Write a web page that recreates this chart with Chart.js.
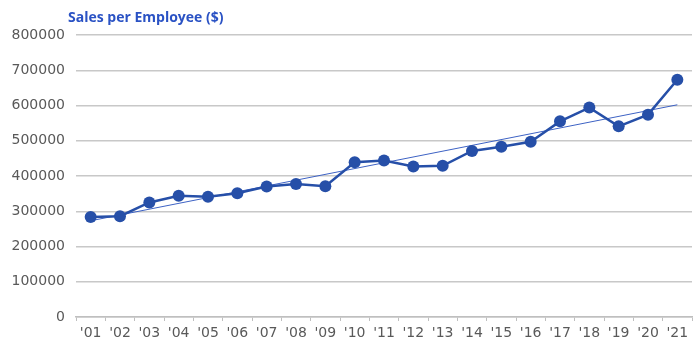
<!DOCTYPE html>
<html>
<head>
<meta charset="utf-8">
<script src="https://cdn.jsdelivr.net/npm/chart.js@4"></script>
<style>
  html, body { margin: 0; padding: 0; background: #fff; overflow: hidden; }
  #wrap { width: 698px; height: 343px; position: relative; }
</style>
</head>
<body>
<div id="wrap"><canvas id="myChart"></canvas></div>
<script>
var years = ["'01", "'02", "'03", "'04", "'05", "'06", "'07", "'08", "'09", "'10", "'11",
             "'12", "'13", "'14", "'15", "'16", "'17", "'18", "'19", "'20", "'21"];
var salesPerEmployee = [284000, 286000, 325000, 344000, 341000, 351000, 370000, 377000, 371000, 439000, 444000,
                        427000, 429000, 471000, 483000, 497000, 555000, 594000, 541000, 574000, 673000];
// linear trend, first and last year
var trendStart = 273000;
var trendEnd = 602000;
var yTicks = [0, 100000, 200000, 300000, 400000, 500000, 600000, 700000, 800000];

var blue = '#264fa8';
var tickFont = { family: 'DejaVu Sans', size: 14 };

// chart heading, drawn above the plot
var heading = {
  id: 'heading',
  afterDraw: function (chart) {
    var c = chart.ctx;
    c.save();
    c.font = 'bold 14px "Open Sans"';
    c.fillStyle = '#2a52c4';
    c.textBaseline = 'middle';
    c.fillText('Sales per Employee ($)', 68, 18);
    c.restore();
  }
};

var ctx = document.getElementById('myChart').getContext('2d');
var myChart = new Chart(ctx, {
  type: 'line',
  data: {
    labels: years,
    datasets: [{
      label: 'Sales per Employee',
      data: salesPerEmployee,
      borderColor: blue,
      backgroundColor: blue,
      borderWidth: 2.5,
      pointRadius: 6,
      pointHoverRadius: 6,
      pointBorderWidth: 0,
      tension: 0
    }, {
      label: 'Trend',
      data: [{ x: years[0], y: trendStart }, { x: years[years.length - 1], y: trendEnd }],
      borderColor: '#3d62c4',
      borderWidth: 1,
      pointRadius: 0,
      tension: 0
    }]
  },
  options: {
    responsive: true,
    maintainAspectRatio: false,
    animation: false,
    layout: { padding: { top: 35, right: 0, bottom: 1, left: 0 } },
    plugins: {
      legend: { display: false },
      tooltip: { enabled: false }
    },
    scales: {
      x: {
        offset: true,
        afterFit: function (scale) { scale.height = 25; },
        grid: {
          offset: true,
          drawOnChartArea: false,
          drawTicks: true,
          tickLength: 4,
          color: '#bfbfbf'
        },
        border: { color: '#bfbfbf', width: 1.5 },
        ticks: { color: '#595959', font: tickFont, padding: 4, maxRotation: 0, autoSkip: false }
      },
      y: {
        min: 0,
        max: 800000,
        afterBuildTicks: function (scale) {
          scale.ticks = yTicks.map(function (v) { return { value: v }; });
        },
        afterFit: function (scale) { scale.width = 76; },
        grid: { color: '#c8c8c8', lineWidth: 1.5, drawTicks: false },
        border: { display: false },
        ticks: {
          color: '#595959',
          font: tickFont,
          padding: 11,
          callback: function (v) { return String(v); }
        }
      }
    }
  },
  plugins: [heading]
});
</script>
</body>
</html>
